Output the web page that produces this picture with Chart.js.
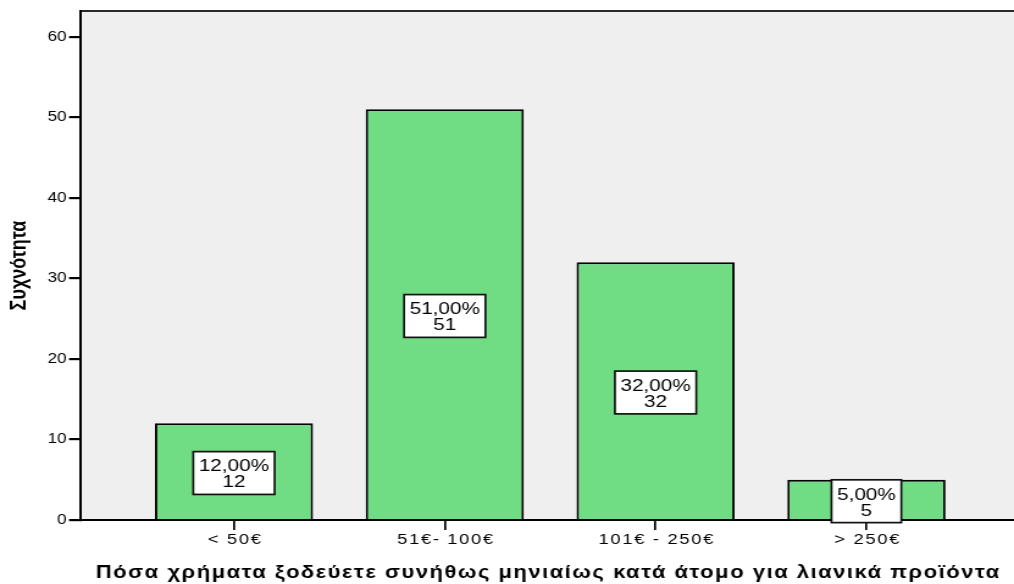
<!DOCTYPE html>
<html>
<head>
<meta charset="utf-8">
<script src="https://cdn.jsdelivr.net/npm/chart.js@4/dist/chart.umd.min.js"></script>
<style>
  html, body { margin: 0; padding: 0; background: #fff; overflow: hidden; }
  #wrap { width: 1014px; height: 584px; overflow: hidden; }
  /* the chart is laid out on a narrower canvas and widened, giving the broad lettering */
  #c { display: block; transform-origin: 0 0; transform: scaleX(1.2202); }
</style>
</head>
<body>
<div id="wrap"><canvas id="c" width="831" height="584"></canvas></div>
<script>
// Monthly spending on retail products per person
const categories = ['< 50€', '51€- 100€', '101€ - 250€', '> 250€'];
const counts = [12, 51, 32, 5];
const yTicks = [0, 10, 20, 30, 40, 50, 60];

const xAxisTitle = 'Πόσα χρήματα ξοδεύετε συνήθως μηνιαίως κατά άτομο για λιανικά προϊόντα';
const yAxisTitle = 'Συχνότητα';

const FONT = "'Liberation Sans', Arial, sans-serif";
const total = counts.reduce((a, b) => a + b, 0);
const pctLabel = v => (v / total * 100).toFixed(2).replace('.', ',') + '%';

// grey plot panel with a dark top frame line
const panel = {
  id: 'panel',
  beforeDraw(chart) {
    const { ctx, chartArea: a } = chart;
    ctx.save();
    ctx.fillStyle = '#efefef';
    ctx.fillRect(a.left, a.top, a.right - a.left, a.bottom - a.top);
    ctx.strokeStyle = '#2a2a2a';
    ctx.lineWidth = 2;
    ctx.beginPath();
    ctx.moveTo(a.left, a.top);
    ctx.lineTo(a.right, a.top);
    ctx.stroke();
    ctx.restore();
  }
};

// category names under the ticks and the axis title, in loosely spaced lettering
const xText = {
  id: 'xText',
  afterDraw(chart) {
    const { ctx, chartArea: a } = chart;
    const xs = chart.scales.x;
    ctx.save();
    ctx.fillStyle = '#000';
    ctx.textAlign = 'center';
    ctx.textBaseline = 'middle';
    ctx.font = '15px ' + FONT;
    ctx.letterSpacing = '1.4px';
    categories.forEach((c, i) => {
      ctx.fillText(c, xs.getPixelForValue(i) + 1, a.bottom + 20);
    });
    ctx.font = 'bold 18px ' + FONT;
    ctx.letterSpacing = '1.25px';
    ctx.fillText(xAxisTitle, (a.left + a.right) / 2 + 1, a.bottom + 53);
    ctx.restore();
  }
};

// boxed "percent / count" label in the middle of each bar
const barLabels = {
  id: 'barLabels',
  afterDatasetsDraw(chart) {
    const { ctx } = chart;
    const meta = chart.getDatasetMeta(0);
    ctx.save();
    ctx.font = '17px ' + FONT;
    ctx.textAlign = 'center';
    ctx.textBaseline = 'middle';
    meta.data.forEach((bar, i) => {
      const v = counts[i];
      const l1 = pctLabel(v);
      const l2 = String(v);
      const w = Math.max(ctx.measureText(l1).width, ctx.measureText(l2).width) + 9;
      const mid = (bar.y + bar.base) / 2;
      const top = mid - 19.5;
      const h = 42.8;
      ctx.fillStyle = '#ffffff';
      ctx.fillRect(bar.x - w / 2, top, w, h);
      ctx.strokeStyle = '#111';
      ctx.lineWidth = 1.7;
      ctx.strokeRect(bar.x - w / 2, top, w, h);
      ctx.fillStyle = '#000';
      ctx.fillText(l1, bar.x, mid - 4.5);
      ctx.fillText(l2, bar.x, mid + 11.5);
    });
    ctx.restore();
  }
};

new Chart(document.getElementById('c'), {
  type: 'bar',
  data: {
    datasets: [{
      data: counts.map((v, i) => ({ x: i, y: v })),
      backgroundColor: '#70dc83',
      borderColor: '#000',
      borderWidth: 2,
      borderSkipped: 'start',
      categoryPercentage: 1,
      barPercentage: 0.75
    }]
  },
  options: {
    responsive: false,
    animation: false,
    devicePixelRatio: 1,
    events: [],
    layout: { padding: { top: 11, left: 0, right: 0, bottom: 29.3 } },
    plugins: {
      legend: { display: false },
      tooltip: { enabled: false },
      title: { display: false }
    },
    scales: {
      x: {
        type: 'linear',
        offset: false,
        min: -0.73,
        max: 3.70,
        afterBuildTicks: axis => { axis.ticks = categories.map((_, i) => ({ value: i })); },
        afterFit: scale => { scale.height = 34.7; },
        ticks: { display: false },
        grid: {
          offset: false,
          drawOnChartArea: false,
          drawTicks: true,
          tickLength: 10,
          color: '#000',
          lineWidth: 1.7
        },
        border: { display: true, color: '#000', width: 2 }
      },
      y: {
        min: 0,
        max: 63.2,
        afterBuildTicks: axis => { axis.ticks = yTicks.map(v => ({ value: v })); },
        afterFit: scale => { scale.width = 65.6; },
        ticks: {
          color: '#000',
          font: { family: FONT, size: 14 },
          padding: 2
        },
        grid: {
          drawOnChartArea: false,
          drawTicks: true,
          tickLength: 9,
          color: '#000',
          lineWidth: 2.2
        },
        border: { display: true, color: '#000', width: 2 },
        title: {
          display: true,
          text: yAxisTitle,
          color: '#000',
          font: { family: FONT, size: 18, weight: 'bold', lineHeight: 1.2 },
          padding: { top: 5, bottom: 0 }
        }
      }
    }
  },
  plugins: [panel, barLabels, xText]
});
</script>
</body>
</html>
